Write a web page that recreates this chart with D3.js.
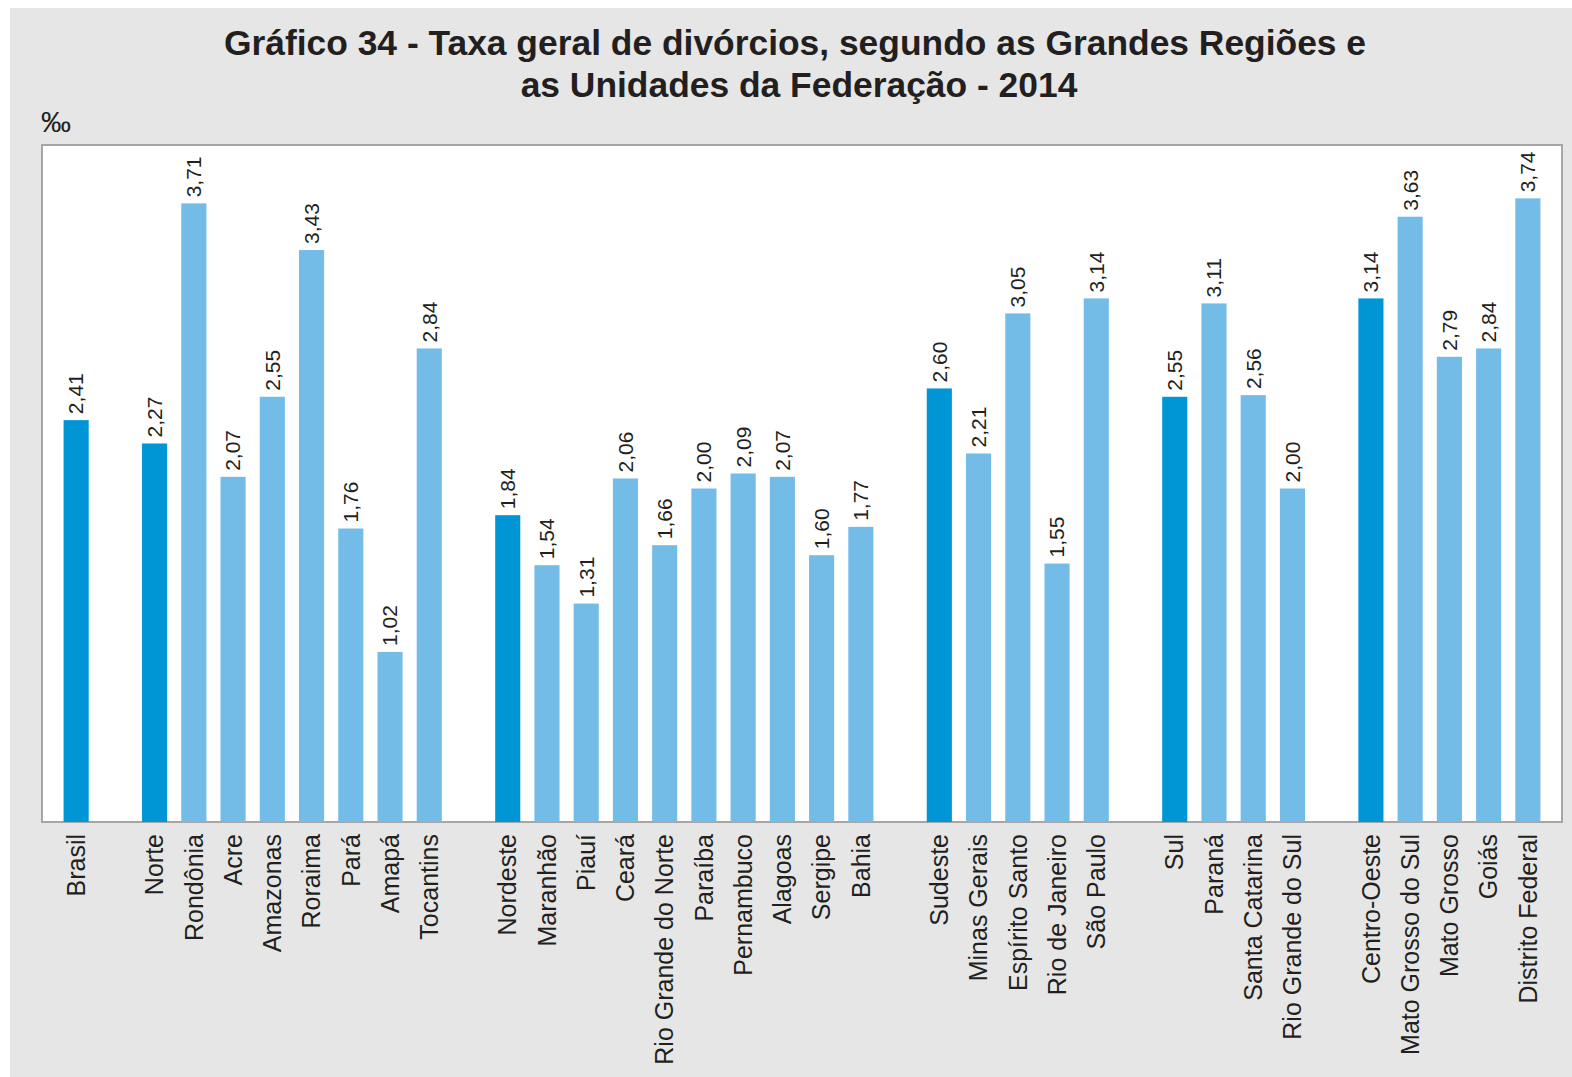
<!DOCTYPE html>
<html>
<head>
<meta charset="utf-8">
<script src="https://cdn.jsdelivr.net/npm/d3@7"></script>
<style>
  body { margin: 0; background: #fff; }
  svg { display: block; font-family: "Liberation Sans", Arial, sans-serif; }
</style>
</head>
<body>
<div id="chart"></div>
<script>
// Regions come first in each group, followed by their states
const categories = [
    "Brasil",
    "Norte", "Rondônia", "Acre", "Amazonas", "Roraima", "Pará", "Amapá", "Tocantins",
    "Nordeste", "Maranhão", "Piauí", "Ceará", "Rio Grande do Norte", "Paraíba", "Pernambuco", "Alagoas", "Sergipe", "Bahia",
    "Sudeste", "Minas Gerais", "Espírito Santo", "Rio de Janeiro", "São Paulo",
    "Sul", "Paraná", "Santa Catarina", "Rio Grande do Sul",
    "Centro-Oeste", "Mato Grosso do Sul", "Mato Grosso", "Goiás", "Distrito Federal"
];
const values = [
    2.41,
    2.27, 3.71, 2.07, 2.55, 3.43, 1.76, 1.02, 2.84,
    1.84, 1.54, 1.31, 2.06, 1.66, 2.00, 2.09, 2.07, 1.60, 1.77,
    2.60, 2.21, 3.05, 1.55, 3.14,
    2.55, 3.11, 2.56, 2.00,
    3.14, 3.63, 2.79, 2.84, 3.74
];
const regions = ["Brasil", "Norte", "Nordeste", "Sudeste", "Sul", "Centro-Oeste"];

const width = 1572, height = 1077;
const plot = { left: 42, right: 1562, top: 145, bottom: 822 };

const svg = d3.select("#chart").append("svg")
    .attr("width", width)
    .attr("height", height);

// grey page behind everything
svg.append("rect")
    .attr("x", 10).attr("y", 8)
    .attr("width", width - 10).attr("height", height - 8)
    .attr("fill", "#e6e6e6");

// title
const title = svg.append("text")
    .attr("text-anchor", "middle")
    .style("font-size", "35.4px")
    .style("font-weight", "bold")
    .style("fill", "#231f20");
title.append("tspan").attr("x", 795).attr("y", 55)
    .text("Gráfico 34 - Taxa geral de divórcios, segundo as Grandes Regiões e");
title.append("tspan").attr("x", 799).attr("y", 97)
    .text("as Unidades da Federação - 2014");

svg.append("text")
    .attr("x", 41).attr("y", 132)
    .style("font-size", "30px")
    .style("fill", "#231f20")
    .text("‰");

// plot area
svg.append("rect")
    .attr("x", plot.left).attr("y", plot.top)
    .attr("width", plot.right - plot.left).attr("height", plot.bottom - plot.top)
    .attr("fill", "white")
    .attr("stroke", "#a6a6a6")
    .attr("stroke-width", 2);

// put an empty slot before each region except the first
const slots = [];
categories.forEach((c, i) => {
    if (i > 0 && regions.includes(c)) slots.push("gap" + i);
    slots.push(c);
});

const x = d3.scaleBand()
    .domain(slots)
    .range([plot.left, plot.right])
    .paddingInner(0.36)
    .paddingOuter(0.55);

const y = d3.scaleLinear()
    .domain([0, 4.06])
    .range([plot.bottom, plot.top]);

const data = categories.map((c, i) => ({ name: c, value: values[i], region: regions.includes(c) }));

const g = svg.append("g");

g.selectAll("rect.bar")
    .data(data)
    .join("rect")
    .attr("class", "bar")
    .attr("x", d => x(d.name))
    .attr("y", d => y(d.value))
    .attr("width", x.bandwidth())
    .attr("height", d => y(0) - y(d.value))
    .attr("fill", d => d.region ? "#0096d6" : "#74bce8");

// value labels above bars
g.selectAll("text.val")
    .data(data)
    .join("text")
    .attr("class", "val")
    .attr("transform", d => `translate(${x(d.name) + x.bandwidth() / 2},${y(d.value) - 6}) rotate(-90)`)
    .attr("dy", "0.35em")
    .style("font-size", "21px")
    .style("fill", "#231f20")
    .text(d => d3.format(".2f")(d.value).replace(".", ","));

// category labels under the plot
g.selectAll("text.cat")
    .data(data)
    .join("text")
    .attr("class", "cat")
    .attr("transform", d => `translate(${x(d.name) + x.bandwidth() / 2},${plot.bottom + 12}) rotate(-90)`)
    .attr("dy", "0.35em")
    .attr("text-anchor", "end")
    .style("font-size", "25px")
    .style("fill", "#231f20")
    .text(d => d.name);
</script>
</body>
</html>
